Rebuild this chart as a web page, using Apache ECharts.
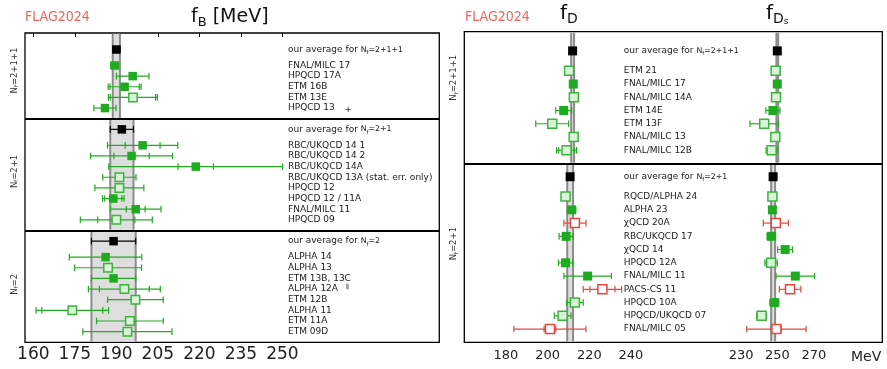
<!DOCTYPE html>
<html>
<head>
<meta charset="utf-8">
<script src="https://cdn.jsdelivr.net/npm/echarts@6/dist/echarts.min.js"></script>
<style>
  html, body { margin: 0; padding: 0; background: #fff; }
  #chart { width: 887px; height: 369px; }
</style>
</head>
<body>
<div id="chart"></div>
<script>
// ---------- f_B panel (left) ----------
const fbGroups = ['2+1+1', '2+1', '2'];
const fbAverage = [190.0, 192.0, 189.0];
const fbAverageErr = [1.3, 4.2, 8.0];
const fbNames = [
  ['FNAL/MILC 17', 'HPQCD 17A', 'ETM 16B', 'ETM 13E', 'HPQCD 13'],
  ['RBC/UKQCD 14 1', 'RBC/UKQCD 14 2', 'RBC/UKQCD 14A', 'RBC/UKQCD 13A (stat. err. only)',
   'HPQCD 12', 'HPQCD 12 / 11A', 'FNAL/MILC 11', 'HPQCD 09'],
  ['ALPHA 14', 'ALPHA 13', 'ETM 13B, 13C', 'ALPHA 12A', 'ETM 12B', 'ALPHA 11', 'ETM 11A', 'ETM 09D']
];
const fbValue = [
  [189.4, 195.9, 193.0, 196.0, 185.9],
  [199.5, 195.5, 218.7, 191.1, 191.1, 188.9, 197.0, 190.0],
  [186.1, 187.0, 189.0, 192.9, 196.9, 174.1, 194.9, 194.0]
];
const fbStat = [
  [0, 0, 5.3, 8.2, 0],
  [6.3, 6.4, 6.4, 0, 0, 3.1, 3.4, 6.7],
  [0, 0, 0, 9.0, 0, 11.0, 0, 0]
];
const fbTotal = [
  [1.4, 5.9, 5.95, 8.85, 4.0],
  [12.7, 14.8, 31.4, 6.0, 8.85, 3.9, 9.15, 13.0],
  [13.1, 12.1, 8.0, 13.0, 10.05, 13.1, 12.05, 16.1]
];
// f = filled green, o = open green, r = open red
const fbKind = [
  ['f', 'f', 'f', 'o', 'f'],
  ['f', 'f', 'f', 'o', 'o', 'f', 'f', 'o'],
  ['f', 'o', 'f', 'o', 'o', 'o', 'o', 'o']
];
const fbTicks = [160, 175, 190, 205, 220, 235, 250];

// ---------- f_D and f_Ds panel (right) ----------
const dGroups = ['2+1+1', '2+1'];
const dNames = [
  ['ETM 21', 'FNAL/MILC 17', 'FNAL/MILC 14A', 'ETM 14E', 'ETM 13F', 'FNAL/MILC 13', 'FNAL/MILC 12B'],
  ['RQCD/ALPHA 24', 'ALPHA 23', 'χQCD 20A', 'RBC/UKQCD 17', 'χQCD 14', 'HPQCD 12A',
   'FNAL/MILC 11', 'PACS-CS 11', 'HPQCD 10A', 'HPQCD/UKQCD 07', 'FNAL/MILC 05']
];
const fdAverage = [212.0, 210.8];
const fdAverageErr = [0.7, 1.4];
const fdValue = [
  [210.3, 212.3, 212.6, 207.7, 202.2, 212.5, 209.1],
  [208.6, 211.5, 213.1, 208.9, null, 208.6, 219.2, 226.3, 213.1, 207.2, 201.1]
];
const fdStat = [
  [0, 0, 0, 0, 0, 0, 3.8],
  [0, 0, 0, 0, null, 0, 0, 6.0, 0, 0, 2.8]
];
const fdTotal = [
  [2.1, 0.6, 0.4, 3.8, 7.9, 0.3, 4.8],
  [1.5, 2.0, 5.3, 3.4, null, 3.4, 11.4, 9.2, 4.0, 4.0, 17.3]
];
const fdKind = [
  ['o', 'f', 'o', 'f', 'o', 'o', 'o'],
  ['o', 'f', 'r', 'f', null, 'f', 'f', 'r', 'o', 'o', 'r']
];
const fdsAverage = [249.9, 247.6];
const fdsAverageErr = [0.5, 1.1];
const fdsValue = [
  [249.0, 249.9, 249.2, 247.5, 242.7, 248.8, 246.8],
  [247.2, 247.2, 249.1, 246.6, 254.2, 246.5, 259.8, 256.9, 248.3, 241.3, 249.4]
];
const fdsStat = [
  [0, 0, 0, 0, 0, 0, 2.2],
  [0, 0, 0, 0, 0, 0, 0, 0, 0, 0, 2.7]
];
const fdsTotal = [
  [1.5, 0.4, 0.3, 3.85, 7.8, 0.2, 3.1],
  [1.3, 1.5, 6.9, 2.3, 4.1, 3.4, 10.6, 5.9, 2.5, 2.7, 16.3]
];
const fdsKind = [
  ['o', 'f', 'o', 'f', 'o', 'o', 'o'],
  ['o', 'f', 'r', 'f', 'f', 'o', 'f', 'r', 'f', 'o', 'r']
];
const fdTicks = [180, 200, 220, 240];
const fdsTicks = [230, 250, 270];

// ---------- styles ----------
const KIND_KEYS = ['a', 'f', 'o', 'r'];
const KIND = {
  a: { fill: '#000', stroke: '#000', bar: '#000', lw: 0 },
  f: { fill: '#1fab1f', stroke: '#1fab1f', bar: '#22aa22', lw: 0 },
  o: { fill: '#d8f3d8', stroke: '#3cb43c', bar: '#22aa22', lw: 1.5 },
  r: { fill: '#ffffff', stroke: '#e4483c', bar: '#e4483c', lw: 1.5 }
};
const FONT = 'DejaVu Sans';

// rows: average on top of each group, entries below, separator line between groups
function rowLayout(counts, topPad) {
  const avgY = [], rowY = [], sepY = [];
  let y = topPad;
  counts.forEach((n, g) => {
    avgY.push(y);
    const rows = [];
    for (let i = 0; i < n; i++) rows.push(y + 1.5 + i);
    rowY.push(rows);
    const end = rows[n - 1] + 1;
    if (g < counts.length - 1) sepY.push(end);
    y = end + 1;
  });
  return { avgY, rowY, sepY, max: y - 1 };
}

const LB = rowLayout(fbNames.map(a => a.length), 1.55);
const LD = rowLayout(dNames.map(a => a.length), 1.45);

function pointData(avg, avgErr, values, stat, total, kind, L) {
  const out = [];
  avg.forEach((v, g) => {
    out.push([v, 0, avgErr[g], L.avgY[g], 0]);
    values[g].forEach((x, i) => {
      if (x == null) return;
      out.push([x, stat[g][i], total[g][i], L.rowY[g][i], KIND_KEYS.indexOf(kind[g][i])]);
    });
  });
  return out;
}

function bandData(avg, avgErr, L) {
  return avg.map((v, g) => [
    v - avgErr[g], v + avgErr[g],
    g === 0 ? 0 : L.sepY[g - 1],
    g === avg.length - 1 ? L.max : L.sepY[g]
  ]);
}

function pointRender(size) {
  return function (params, api) {
    const v = api.value(0), st = api.value(1), tot = api.value(2), y = api.value(3);
    const k = KIND[KIND_KEYS[api.value(4)]];
    const c = api.coord([v, y]);
    const h = 3.3;
    const bar = { stroke: k.bar, lineWidth: 1.2 };
    const kids = [];
    const tick = (xv) => {
      const x = api.coord([xv, y])[0];
      kids.push({ type: 'line', shape: { x1: x, y1: c[1] - h, x2: x, y2: c[1] + h }, style: bar });
    };
    if (tot > 0) {
      const x0 = api.coord([v - tot, y])[0], x1 = api.coord([v + tot, y])[0];
      kids.push({ type: 'line', shape: { x1: x0, y1: c[1], x2: x1, y2: c[1] }, style: bar });
      tick(v - tot); tick(v + tot);
    }
    if (st > 0) { tick(v - st); tick(v + st); }
    kids.push({
      type: 'rect',
      shape: { x: c[0] - size / 2, y: c[1] - size / 2, width: size, height: size },
      style: { fill: k.fill, stroke: k.lw ? k.stroke : null, lineWidth: k.lw }
    });
    return { type: 'group', children: kids };
  };
}

function bandRender(params, api) {
  const a = api.coord([api.value(0), api.value(2)]);
  const b = api.coord([api.value(1), api.value(3)]);
  const y0 = a[1] + 0.8, y1 = b[1] - 0.8;
  const edge = { stroke: '#8c8c8c', lineWidth: 2 };
  return {
    type: 'group', children: [
      { type: 'rect', shape: { x: a[0], y: y0, width: b[0] - a[0], height: y1 - y0 }, style: { fill: '#dedede' } },
      { type: 'line', shape: { x1: a[0], y1: y0, x2: a[0], y2: y1 }, style: edge },
      { type: 'line', shape: { x1: b[0], y1: y0, x2: b[0], y2: y1 }, style: edge }
    ]
  };
}

function separators(L) {
  return {
    silent: true, symbol: 'none', label: { show: false },
    lineStyle: { color: '#000', width: 2.2, type: 'solid' },
    data: L.sepY.map(y => ({ yAxis: y }))
  };
}

const RICH = {
  t: { fontSize: 9, fontFamily: FONT, color: '#1a1a1a', lineHeight: 12 },
  m: { fontSize: 7.8, fontFamily: FONT, color: '#1a1a1a', lineHeight: 12 },
  s: { fontSize: 5.5, fontFamily: FONT, color: '#1a1a1a', lineHeight: 6, verticalAlign: 'bottom' },
  p: { fontSize: 8, fontFamily: FONT, color: '#1a1a1a', lineHeight: 4, verticalAlign: 'bottom', padding: [0, 0, 0, 10] },
  q: { fontSize: 6, fontFamily: FONT, color: '#1a1a1a', lineHeight: 6, verticalAlign: 'top', padding: [0, 0, 0, 8] }
};

function labelMap(names, groups, L) {
  const map = new Map();
  groups.forEach((gname, g) => {
    map.set(Math.round(L.avgY[g] * 100), '{t|our average for }{m|N}{s|f}{m|=' + gname + '}');
    names[g].forEach((n, i) => {
      let txt = '{t|' + n + '}';
      if (n === 'HPQCD 13') txt += '{p|+}';
      if (n === 'ALPHA 12A') txt += '{q|ǁ}';
      map.set(Math.round(L.rowY[g][i] * 100), txt);
    });
  });
  return map;
}
const fbLabels = labelMap(fbNames, fbGroups, LB);
const dLabels = labelMap(dNames, dGroups, LD);

function labelAxis(gridIndex, L, map, offset) {
  return {
    gridIndex, type: 'value', inverse: true, min: 0, max: L.max,
    position: 'right', offset,
    axisLine: { show: false }, axisTick: { show: false }, splitLine: { show: false },
    axisLabel: {
      margin: 0, align: 'left',
      customValues: [...map.keys()].map(k => k / 100),
      formatter: (v) => map.get(Math.round(v * 100)) || '',
      rich: RICH
    }
  };
}

function nfAxis(gridIndex, L, groups, shifts) {
  const centers = groups.map((g, i) => {
    const top = i === 0 ? 0 : L.sepY[i - 1];
    const bot = i === groups.length - 1 ? L.max : L.sepY[i];
    return (top + bot) / 2 + shifts[i];
  });
  const map = new Map(centers.map((c, i) => [Math.round(c * 100), groups[i]]));
  return {
    gridIndex, type: 'value', inverse: true, min: 0, max: L.max,
    position: 'left',
    axisLine: { show: false }, axisTick: { show: false }, splitLine: { show: false },
    axisLabel: {
      rotate: 90, margin: 5,
      customValues: centers,
      formatter: (v) => '{n|N}{s|f}{n|=' + map.get(Math.round(v * 100)) + '}',
      rich: {
        n: { fontSize: 8.5, fontFamily: FONT, color: '#333', lineHeight: 11 },
        s: { fontSize: 5.5, fontFamily: FONT, color: '#333', lineHeight: 5, verticalAlign: 'bottom' }
      }
    }
  };
}

function dataAxis(gridIndex, L) {
  return { gridIndex, type: 'value', inverse: true, min: 0, max: L.max, show: false };
}

const gridBase = { show: true, borderColor: '#000', borderWidth: 1.3, backgroundColor: 'transparent', outerBoundsMode: 'none' };

const logoStyle = { fontFamily: 'DejaVu Sans Condensed, DejaVu Sans', fontSize: 14, fontWeight: 'normal', color: '#ef6559' };
const mainStyle = { fontSize: 19, fontFamily: FONT, fontWeight: 'normal', color: '#111', lineHeight: 24 };
const subStyle = { fontSize: 13, fontFamily: FONT, fontWeight: 'normal', color: '#111', lineHeight: 16, verticalAlign: 'bottom' };

const option = {
  animation: false,
  textStyle: { fontFamily: FONT },
  title: [
    { text: 'FLAG2024', left: 25, top: 10, padding: 0, textStyle: logoStyle },
    { text: 'FLAG2024', left: 465, top: 10, padding: 0, textStyle: logoStyle },
    {
      text: '{a|f}{b|B}{a| [MeV]}', left: 191, top: 5, padding: 0,
      textStyle: { fontWeight: 'normal', rich: { a: mainStyle, b: subStyle } }
    },
    {
      text: '{a|f}{b|D}', left: 560, top: 2, padding: 0,
      textStyle: { fontWeight: 'normal', rich: {
        a: Object.assign({}, mainStyle, { fontSize: 20 }),
        b: Object.assign({}, subStyle, { fontSize: 14 })
      } }
    },
    {
      text: '{a|f}{b|D}{c|s}', left: 766, top: 2, padding: 0,
      textStyle: { fontWeight: 'normal', rich: {
        a: Object.assign({}, mainStyle, { fontSize: 20 }),
        b: Object.assign({}, subStyle, { fontSize: 14 }),
        c: Object.assign({}, subStyle, { fontSize: 9, lineHeight: 8 })
      } }
    },
    {
      text: 'MeV', left: 851, top: 350, padding: 0,
      textStyle: { fontSize: 14, fontFamily: FONT, fontWeight: 'normal', color: '#222' }
    }
  ],
  grid: [
    Object.assign({ left: 25, top: 33, right: 447.7, bottom: 26.7 }, gridBase),
    Object.assign({ left: 464.3, top: 31.7, right: 4.7, bottom: 26.7 }, gridBase),
    Object.assign({ left: 464.3, top: 31.7, right: 4.7, bottom: 26.7 }, gridBase, { show: false })
  ],
  xAxis: [
    {
      gridIndex: 0, type: 'value', min: 157.0, max: 306.7,
      axisLine: { show: false }, splitLine: { show: false },
      axisTick: { show: true, customValues: fbTicks, length: 4, lineStyle: { color: '#000', width: 1 } },
      axisLabel: { customValues: fbTicks, fontSize: 17, color: '#222', margin: 4 }
    },
    {
      gridIndex: 1, type: 'value', min: 160, max: 360.65,
      axisLine: { show: false }, splitLine: { show: false }, axisTick: { show: false },
      axisLabel: { customValues: fdTicks, fontSize: 13, color: '#222', margin: 7 }
    },
    {
      gridIndex: 2, type: 'value', min: 77.9, max: 307.6,
      axisLine: { show: false }, splitLine: { show: false }, axisTick: { show: false },
      axisLabel: { customValues: fdsTicks, fontSize: 13, color: '#222', margin: 7 }
    }
  ],
  yAxis: [
    dataAxis(0, LB),
    labelAxis(0, LB, fbLabels, 288 - 439.3),
    nfAxis(0, LB, fbGroups, [-0.5, -0.3, -0.2]),
    dataAxis(1, LD),
    labelAxis(1, LD, dLabels, 623.7 - 882.3),
    nfAxis(1, LD, dGroups, [-1.5, -0.7]),
    dataAxis(2, LD)
  ],
  series: [
    {
      type: 'custom', xAxisIndex: 0, yAxisIndex: 0, z: 1, silent: true,
      renderItem: bandRender, encode: { x: [0, 1], y: [2, 3] },
      data: bandData(fbAverage, fbAverageErr, LB),
      markLine: separators(LB)
    },
    {
      type: 'custom', xAxisIndex: 0, yAxisIndex: 0, z: 3, silent: true,
      renderItem: pointRender(8.5), encode: { x: 0, y: 3 },
      data: pointData(fbAverage, fbAverageErr, fbValue, fbStat, fbTotal, fbKind, LB)
    },
    {
      type: 'custom', xAxisIndex: 1, yAxisIndex: 3, z: 1, silent: true,
      renderItem: bandRender, encode: { x: [0, 1], y: [2, 3] },
      data: bandData(fdAverage, fdAverageErr, LD),
      markLine: separators(LD)
    },
    {
      type: 'custom', xAxisIndex: 2, yAxisIndex: 6, z: 1, silent: true,
      renderItem: bandRender, encode: { x: [0, 1], y: [2, 3] },
      data: bandData(fdsAverage, fdsAverageErr, LD)
    },
    {
      type: 'custom', xAxisIndex: 1, yAxisIndex: 3, z: 3, silent: true,
      renderItem: pointRender(9), encode: { x: 0, y: 3 },
      data: pointData(fdAverage, fdAverageErr, fdValue, fdStat, fdTotal, fdKind, LD)
    },
    {
      type: 'custom', xAxisIndex: 2, yAxisIndex: 6, z: 3, silent: true,
      renderItem: pointRender(9), encode: { x: 0, y: 3 },
      data: pointData(fdsAverage, fdsAverageErr, fdsValue, fdsStat, fdsTotal, fdsKind, LD)
    }
  ]
};

const chart = echarts.init(document.getElementById('chart'));
chart.setOption(option);
</script>
</body>
</html>
